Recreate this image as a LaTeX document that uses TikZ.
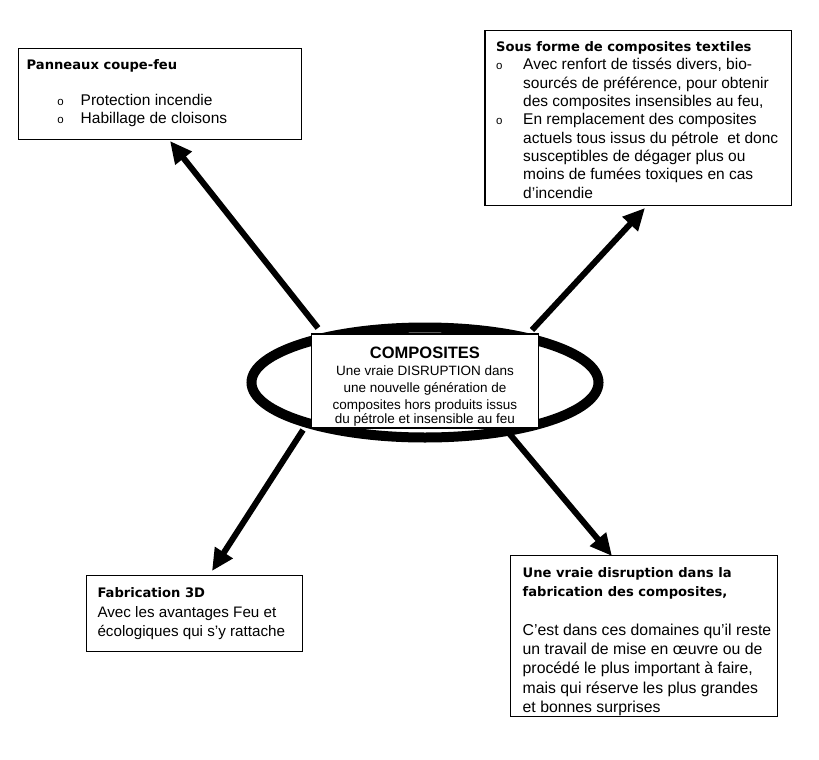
\documentclass[tikz,border=0pt]{standalone}
\usepackage{fontspec}
\setmainfont{Liberation Sans}
\newfontfamily\titlefam{DejaVu Sans}
\usetikzlibrary{arrows.meta,shapes.geometric}
\newcommand\ttl[1]{{\titlefam\bfseries\fontsize{13.1}{18}\selectfont #1}}
\newcommand\bul[2]{\hspace*{#1pt}\makebox[#2pt][l]{\fontsize{11.5}{11}\selectfont o}}
\begin{document}
\begin{tikzpicture}[x=1pt,y=-1pt,
  frame/.style={draw,line width=1.2pt,inner sep=0pt,anchor=north west},
  boxtext/.style={anchor=north west,inner sep=0pt,align=left},
  arr/.style={line width=6pt,-{Triangle[width=20pt,length=22pt]}},
  ring/.style={draw,ellipse,line width=10pt,inner sep=0pt,minimum width=347pt,minimum height=110pt}]
\useasboundingbox (0,0) rectangle (819,760);
% boxes
\node[frame,minimum width=283pt,minimum height=91pt] (b1) at (17.5,48) {};
\node[boxtext,font=\fontsize{15.5}{18.2}\selectfont] (b1t) at ([xshift=9pt]b1.north west)
  {\rule{0pt}{21.7pt}\ttl{Panneaux coupe-feu}\\[17.5pt]
   \bul{30.7}{23.3}Protection incendie\\
   \bul{30.7}{23.3}Habillage de cloisons};
\node[frame,minimum width=306.7pt,minimum height=175pt] (b2) at (484.3,30) {};
\node[boxtext,font=\fontsize{15.5}{18.3}\selectfont] (b2t) at ([xshift=11.7pt]b2.north west)
  {\rule{0pt}{21.4pt}\ttl{Sous forme de composites textiles}\\
   \bul{0}{27}Avec renfort de tissés divers, bio-\\
   \hspace*{27pt}sourcés de préférence, pour obtenir\\
   \hspace*{27pt}des composites insensibles au feu,\\
   \bul{0}{27}En remplacement des composites\\
   \hspace*{27pt}actuels tous issus du pétrole\ \ et donc\\
   \hspace*{27pt}susceptibles de dégager plus ou\\
   \hspace*{27pt}moins de fumées toxiques en cas\\
   \hspace*{27pt}d’incendie};
\node[frame,minimum width=215.7pt,minimum height=76pt] (b4) at (86,575) {};
\node[boxtext,font=\fontsize{15.2}{19.5}\selectfont] (b4t) at ([xshift=11.3pt]b4.north west)
  {\rule{0pt}{22.4pt}\ttl{Fabrication 3D}\\
   Avec les avantages Feu et\\
   écologiques qui s’y rattache};
\node[frame,minimum width=267pt,minimum height=161pt] (b5) at (510,555) {};
\node[boxtext,font=\fontsize{15.8}{19.3}\selectfont] (b5t) at ([xshift=12.5pt]b5.north west)
  {\rule{0pt}{22.4pt}\ttl{Une vraie disruption dans la}\\
   \ttl{fabrication des composites,}\\[19pt]
   C’est dans ces domaines qu’il reste\\
   un travail de mise en œuvre ou de\\
   procédé le plus important à faire,\\
   mais qui réserve les plus grandes\\
   et bonnes surprises};
% arrows
\coordinate (s1) at (318,328);
\coordinate (t1) at (170,141);
\coordinate (s2) at (532,330);
\coordinate (t2) at (645,208);
\coordinate (s3) at (303,430);
\coordinate (t3) at (212,571);
\coordinate (s4) at (508,432);
\coordinate (t4) at (612,556);
\draw[arr] (s1) -- (t1);
\draw[arr] (s2) -- (t2);
\draw[arr] (s3) -- (t3);
\draw[arr] (s4) -- (t4);
% centre
\node[ring] (ell) at (425,382.5) {};
\node[frame,fill=white,minimum width=226.7pt,minimum height=94pt] (c) at (311,333.3) {};
\node[anchor=north,inner sep=0pt,align=center,font=\fontsize{13.5}{17.3}\selectfont] (ct) at (c.north)
  {\rule{0pt}{24.5pt}{\fontsize{16.5}{17}\selectfont\bfseries COMPOSITES}\\
   Une vraie DISRUPTION dans\\
   une nouvelle génération de\\
   composites hors produits issus\\[-3.5pt]
   du pétrole et insensible au feu};
\end{tikzpicture}
\end{document}
